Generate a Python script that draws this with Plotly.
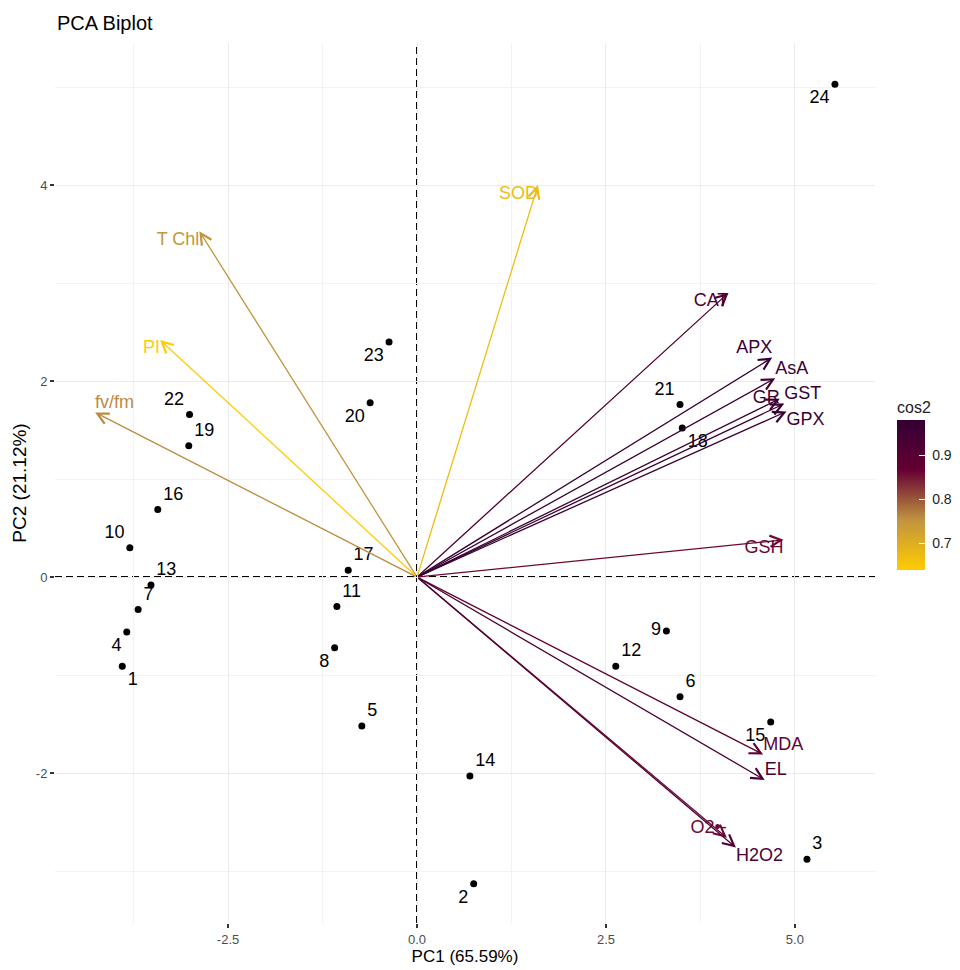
import plotly.graph_objects as go
from plotly.colors import sample_colorscale

# ---- data ----
obs_ids = ["1", "2", "3", "4", "5", "6", "7", "8", "9", "10", "11", "12",
           "13", "14", "15", "16", "17", "18", "19", "20", "21", "22", "23", "24"]
obs_pc1 = [-3.90, 0.75, 5.16, -3.84, -0.73, 3.48, -3.69, -1.09, 3.30, -3.80, -1.06, 2.63,
           -3.52, 0.70, 4.68, -3.43, -0.91, 3.51, -3.02, -0.62, 3.48, -3.01, -0.37, 5.53]
obs_pc2 = [-0.91, -3.13, -2.88, -0.56, -1.52, -1.22, -0.33, -0.72, -0.55, 0.30, -0.30, -0.91,
           -0.08, -2.03, -1.48, 0.69, 0.07, 1.52, 1.34, 1.78, 1.76, 1.66, 2.40, 5.03]
obs_label_pos = ["bottom right", "bottom left", "top right", "bottom left", "top right",
                 "top right", "top right", "bottom left", "middle left", "top left",
                 "top right", "top right", "top right", "top right", "bottom left",
                 "top right", "top right", "bottom right", "top right", "bottom left",
                 "top left", "top left", "bottom left", "bottom left"]

var_names = ["SOD", "T Chl", "PI", "fv/fm", "CAT", "APX", "AsA", "GR", "GST", "GPX",
             "GSH", "MDA", "EL", "O2•-", "H2O2"]
var_pc1 = [1.60, -2.88, -3.40, -4.26, 4.12, 4.70, 4.74, 4.80, 4.86, 4.89,
           4.85, 4.58, 4.60, 4.10, 4.22]
var_pc2 = [4.00, 3.53, 2.42, 1.68, 2.90, 2.24, 2.03, 1.82, 1.77, 1.69,
           0.38, -1.81, -2.07, -2.66, -2.76]
var_cos2 = [0.67, 0.75, 0.64, 0.76, 0.92, 0.97, 0.96, 0.96, 0.97, 0.97,
            0.86, 0.88, 0.93, 0.86, 0.92]
var_label_pos = ["bottom left", "bottom left", "bottom left", "top right", "bottom left",
                 "top left", "top right", "middle left", "top right", "bottom right",
                 "bottom left", "top right", "top right", "top left", "bottom right"]

x_ticks = [-2.5, 0.0, 2.5, 5.0]
x_tick_labels = ["-2.5", "0.0", "2.5", "5.0"]
y_ticks = [-2, 0, 2, 4]
y_tick_labels = ["-2", "0", "2", "4"]
cbar_ticks = [0.7, 0.8, 0.9]
cbar_tick_labels = [" 0.7", " 0.8", " 0.9"]

cmin, cmax = 0.64, 0.98
colorscale = [[0.0, "#FFCC00"], [1/3, "#C09440"], [2/3, "#660033"], [1.0, "#330033"]]

x_range = [-4.79, 6.06]
y_range = [-3.53, 5.45]

FONT = "Liberation Sans, Arial, sans-serif"

norm = [(c - cmin) / (cmax - cmin) for c in var_cos2]
var_colors = sample_colorscale(colorscale, norm)

fig = go.Figure()

# reference dashed lines
fig.add_shape(type="line", xref="x", yref="y", x0=0, x1=0, y0=y_range[0], y1=y_range[1],
              line=dict(color="black", width=2, dash="7px,4px"), layer="below")
fig.add_shape(type="line", xref="x", yref="y", x0=x_range[0], x1=x_range[1], y0=0, y1=0,
              line=dict(color="black", width=2, dash="7px,4px"), layer="below")

# arrows
for name, px, py, col in zip(var_names, var_pc1, var_pc2, var_colors):
    fig.add_annotation(x=px, y=py, ax=0, ay=0, xref="x", yref="y", axref="x", ayref="y",
                       text="", showarrow=True, arrowhead=5, arrowsize=1.7,
                       arrowwidth=1.3, arrowcolor=col, standoff=0)

# variable labels
fig.add_trace(go.Scatter(
    x=var_pc1, y=var_pc2, mode="text", text=var_names,
    textposition=var_label_pos,
    textfont=dict(color=var_colors, size=18, family=FONT),
    hoverinfo="skip", showlegend=False))

# colorbar carrier
fig.add_trace(go.Scatter(
    x=var_pc1, y=var_pc2, mode="markers",
    marker=dict(size=1, opacity=0, color=var_cos2, colorscale=colorscale,
                cmin=cmin, cmax=cmax, showscale=True,
                colorbar=dict(title=dict(text="cos2", side="top",
                                         font=dict(size=16, family=FONT, color="#222")),
                              thickness=28, len=172, lenmode="pixels",
                              x=(897 - 55) / 820, xanchor="left", xpad=0,
                              y=(923 - 570) / 880, yanchor="bottom", ypad=0,
                              tickvals=cbar_ticks, ticktext=cbar_tick_labels,
                              ticks="inside", ticklen=6, tickcolor="white",
                              tickfont=dict(size=14, family=FONT, color="#222"),
                              outlinewidth=0)),
    hoverinfo="skip", showlegend=False))

# observations
fig.add_trace(go.Scatter(
    x=obs_pc1, y=obs_pc2, mode="markers+text", text=obs_ids,
    textposition=obs_label_pos,
    marker=dict(color="black", size=7),
    textfont=dict(color="black", size=18, family=FONT),
    hoverinfo="skip", showlegend=False))

fig.update_layout(
    width=960, height=970,
    margin=dict(l=55, r=85, t=43, b=47, autoexpand=False),
    paper_bgcolor="white", plot_bgcolor="white",
    title=dict(text="PCA Biplot", x=57/960, xanchor="left", xref="container",
               y=1 - 23/970, yanchor="middle", yref="container",
               font=dict(size=20, family=FONT, color="black")),
    font=dict(family=FONT),
)
fig.update_xaxes(range=x_range, tickvals=x_ticks, ticktext=x_tick_labels,
                 showgrid=True, gridcolor="#EBEBEB", gridwidth=1.2, zeroline=False,
                 ticks="outside", ticklen=4, tickcolor="#333", tickwidth=1.5,
                 tickfont=dict(size=13, color="#4D4D4D", family=FONT),
                 minor=dict(dtick=1.25, tick0=0, showgrid=True, gridcolor="#F2F2F2", gridwidth=1),
                 title=dict(text="PC1 (65.59%)", font=dict(size=17, color="black", family=FONT), standoff=2),
                 showline=False, automargin=False)
fig.update_yaxes(range=y_range, tickvals=y_ticks, ticktext=y_tick_labels,
                 showgrid=True, gridcolor="#EBEBEB", gridwidth=1.2, zeroline=False,
                 ticks="outside", ticklen=4, tickcolor="#333", tickwidth=1.5,
                 tickfont=dict(size=13, color="#4D4D4D", family=FONT),
                 minor=dict(dtick=1, tick0=0, showgrid=True, gridcolor="#F2F2F2", gridwidth=1),
                 title=dict(text="PC2 (21.12%)", font=dict(size=19, color="black", family=FONT), standoff=4),
                 showline=False, automargin=False)

fig.write_html("out.html", config={"displayModeBar": False},
               post_script="document.body.style.margin='0';document.body.style.overflow='hidden';")
